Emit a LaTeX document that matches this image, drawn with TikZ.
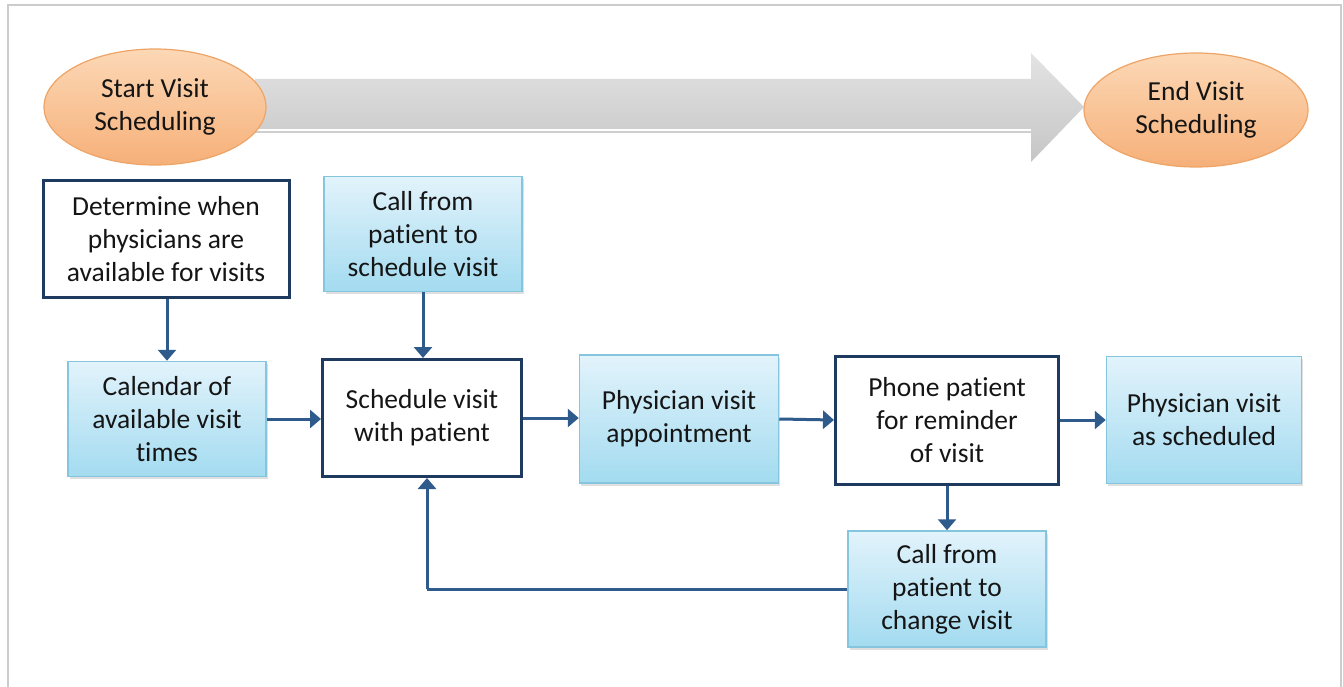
\documentclass[tikz,border=0pt]{standalone}
\usepackage{fontspec}
\setmainfont{Carlito}[Ligatures=NoCommon]
\usetikzlibrary{arrows.meta,shadows,calc,shapes.geometric}
\definecolor{navy}{HTML}{1F3A5F}
\definecolor{conncol}{HTML}{2F5A8C}
\definecolor{bluetop}{HTML}{E2F3FB}
\definecolor{bluebot}{HTML}{A3DBF0}
\definecolor{blueedge}{HTML}{86C5DE}
\definecolor{orgtop}{HTML}{FCD8B6}
\definecolor{orgbot}{HTML}{F6B079}
\definecolor{orgedge}{HTML}{EEA466}
\definecolor{txt}{HTML}{151515}
\tikzset{
  lbl/.style={font=\fontsize{27.5}{33}\selectfont, text=txt, align=center, inner sep=0pt},
  whitebox/.style={lbl, rectangle, draw=navy, line width=3pt, fill=white},
  bluebox/.style={lbl, rectangle, draw=blueedge, line width=1.5pt, top color=bluetop, bottom color=bluebot,
     drop shadow={opacity=0.25, shadow xshift=1.5pt, shadow yshift=-2.5pt}},
  oval/.style={lbl, ellipse, draw=orgedge, line width=1.2pt, top color=orgtop, bottom color=orgbot},
  conn/.style={draw=conncol, line width=3pt, -{Triangle[length=11pt,width=18pt]}},
  plain/.style={draw=conncol, line width=3pt},
}
\begin{document}
\begin{tikzpicture}[x=1pt,y=-1pt]
\useasboundingbox (0,0) rectangle (1343,687);
\fill[white] (0,0) rectangle (1343,687);
% frame
\draw[gray!40, line width=2pt] (8,687) -- (8,5) -- (1341,5) -- (1341,687);
% big arrow
\shade[top color=gray!22, bottom color=gray!45]
  (255,79) -- (1031,79) -- (1031,53) -- (1084,107) -- (1031,162) -- (1031,133) -- (255,133) -- cycle;
\draw[white, line width=1.5pt] (255,130) -- (1031,130);
% ovals
\node[oval, minimum width=222pt, minimum height=116pt] (start) at (155,107) {Start Visit\\Scheduling};
\node[oval, minimum width=224pt, minimum height=114pt] (end) at (1196,110) {End Visit\\Scheduling};
% boxes
\node[whitebox, minimum width=246pt, minimum height=117pt] (det) at (166,239) {Determine when\\physicians are\\available for visits};
\node[bluebox, minimum width=198pt, minimum height=115pt] (callsch) at (423,234) {Call from\\patient to\\schedule visit};
\node[bluebox, minimum width=198pt, minimum height=115pt] (cal) at (167,419) {Calendar of\\available visit\\times};
\node[whitebox, minimum width=199pt, minimum height=117pt] (sched) at (422,418) {Schedule visit\\with patient};
\node[bluebox, minimum width=199pt, minimum height=128pt] (app) at (679,419) {Physician visit\\appointment};
\node[whitebox, minimum width=223pt, minimum height=128pt] (phone) at (947,420) {Phone patient\\for reminder\\of visit};
\node[bluebox, minimum width=195pt, minimum height=127pt] (asch) at (1204,420) {Physician visit\\as scheduled};
\node[bluebox, minimum width=198pt, minimum height=116pt] (chg) at (947,589) {Call from\\patient to\\change visit};
% connectors
\draw[conn] (det.south -| cal.north) -- (cal.north);
\draw[conn] (callsch.south) -- (callsch.south |- sched.north);
\draw[conn] (cal.east) -- (cal.east -| sched.west);
\draw[conn] (sched.east) -- (sched.east -| app.west);
\draw[conn] (app.east) -- (phone.west);
\draw[conn] (phone.east) -- (phone.east -| asch.west);
\draw[conn] (phone.south) -- (phone.south |- chg.north);
\coordinate (fb) at (427,589);
\draw[plain] (chg.west) -- (fb);
\draw[conn] (fb) -- (fb |- sched.south);
\end{tikzpicture}
\end{document}
